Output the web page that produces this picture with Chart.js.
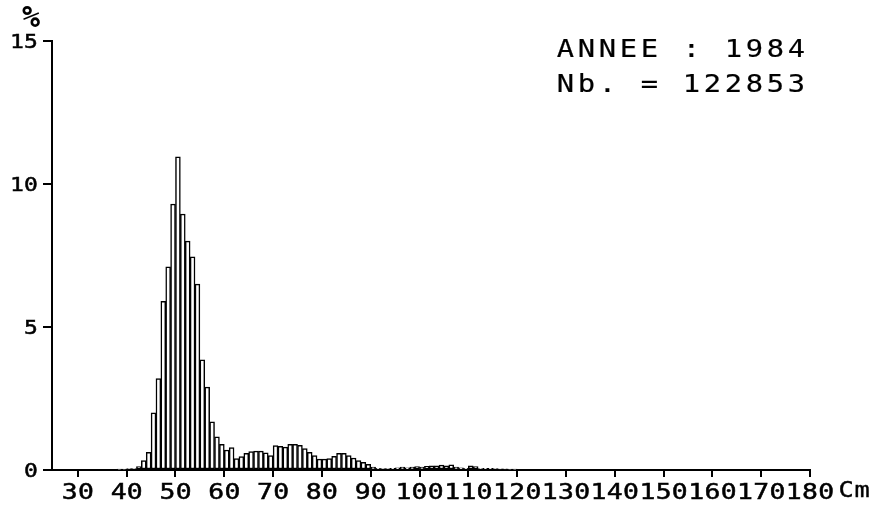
<!DOCTYPE html>
<html>
<head>
<meta charset="utf-8">
<script src="https://cdn.jsdelivr.net/npm/chart.js@4/dist/chart.umd.min.js"></script>
<style>
  body { margin: 0; background: #fff; }
  #histo { display: block; }
</style>
</head>
<body>
<canvas id="histo" width="875" height="508"></canvas>
<script>
// classes de taille (cm, borne inférieure) et pourcentage de chaque classe
const classesCm = [
  38, 39, 40, 41, 42, 43, 44, 45, 46, 47, 48, 49,
  50, 51, 52, 53, 54, 55, 56, 57, 58, 59,
  60, 61, 62, 63, 64, 65, 66, 67, 68, 69,
  70, 71, 72, 73, 74, 75, 76, 77, 78, 79,
  80, 81, 82, 83, 84, 85, 86, 87, 88, 89,
  90, 91, 92, 93, 94, 95, 96, 97, 98, 99,
  100, 101, 102, 103, 104, 105, 106, 107, 108, 109,
  110, 111, 112, 113, 114, 115, 116, 117, 118, 119
];
const pourcentages = [
  0.02, 0.03, 0.05, 0.05, 0.12, 0.33, 0.62, 2.0, 3.2, 5.9, 7.1, 9.3,
  10.95, 8.95, 8.0, 7.45, 6.5, 3.85, 2.9, 1.68, 1.16, 0.9,
  0.7, 0.78, 0.4, 0.47, 0.58, 0.64, 0.66, 0.66, 0.6, 0.5,
  0.85, 0.83, 0.8, 0.9, 0.9, 0.86, 0.75, 0.62, 0.5, 0.38,
  0.38, 0.4, 0.48, 0.58, 0.58, 0.5, 0.42, 0.33, 0.27, 0.2,
  0.1, 0.06, 0.05, 0.05, 0.06, 0.08, 0.1, 0.08, 0.1, 0.12,
  0.1, 0.13, 0.15, 0.15, 0.17, 0.15, 0.18, 0.1, 0.08, 0.06,
  0.15, 0.12, 0.05, 0.06, 0.06, 0.05, 0.04, 0.04, 0.03, 0.02
];
const ticksX = [30, 40, 50, 60, 70, 80, 90, 100, 110, 120, 130, 140, 150, 160, 170, 180];
const ticksY = [0, 5, 10, 15];
const legende = ['ANNEE : 1984', 'Nb. = 122853'];

const POLICE = '"DejaVu Sans Mono", monospace';

// texte à pas fixe, façon traceur (glyphes élargis, trait épaissi)
function ecrire(ctx, texte, x0, y, pas, larg, trait) {
  for (let i = 0; i < texte.length; i++) {
    ctx.save();
    ctx.translate(x0 + i * pas + pas / 2, y);
    ctx.scale(larg, 1);
    ctx.fillText(texte[i], 0, 0);
    if (trait) {
      ctx.lineWidth = trait;
      ctx.strokeText(texte[i], 0, 0);
    }
    ctx.restore();
  }
}

const textes = {
  id: 'textes',
  afterDraw(chart) {
    const ctx = chart.ctx;
    const sx = chart.scales.x;
    const sy = chart.scales.y;
    ctx.save();
    ctx.fillStyle = '#000';
    ctx.strokeStyle = '#000';
    ctx.textAlign = 'center';
    ctx.textBaseline = 'alphabetic';

    ctx.font = '22px ' + POLICE;
    ticksX.forEach(v => {
      const s = String(v);
      const p = 16.2;
      ecrire(ctx, s, sx.getPixelForValue(v) - s.length * p / 2, 499, p, 1.2, 0.5);
    });
    ecrire(ctx, 'Cm', 838, 497, 16, 1.15, 0.4);

    ctx.font = '20px ' + POLICE;
    ticksY.forEach(v => {
      const s = String(v);
      const p = 14;
      ecrire(ctx, s, 38 - s.length * p, sy.getPixelForValue(v) + 7, p, 1.15, 0.5);
    });

    ctx.font = 'bold 30px ' + POLICE;
    ecrire(ctx, '%', 22, 27, 18, 1.0, 0);

    ctx.font = '25px ' + POLICE;
    ecrire(ctx, legende[0], 555, 57, 21, 1.15, 0.2);
    ecrire(ctx, legende[1], 555, 92, 21, 1.15, 0.2);
    ctx.restore();
  }
};

new Chart(document.getElementById('histo'), {
  type: 'bar',
  data: {
    datasets: [{
      data: classesCm.map((c, i) => ({ x: c + 0.5, y: pourcentages[i] })),
      backgroundColor: '#fff',
      borderColor: '#000',
      borderWidth: 1.5,
      borderSkipped: false,
      barPercentage: 1,
      categoryPercentage: 1
    }]
  },
  options: {
    responsive: false,
    animation: false,
    layout: { padding: { left: 0, top: 41, right: 65, bottom: 0 } },
    plugins: { legend: { display: false }, tooltip: { enabled: false } },
    scales: {
      x: {
        type: 'linear',
        min: 24.7,
        max: 180,
        offset: false,
        afterBuildTicks: axe => { axe.ticks = ticksX.map(v => ({ value: v })); },
        afterFit: axe => { axe.height = 38; },
        ticks: { display: false },
        grid: { offset: false, drawOnChartArea: false, color: '#000', lineWidth: 2, tickLength: 7 },
        border: { color: '#000', width: 2 }
      },
      y: {
        min: 0,
        max: 15,
        afterBuildTicks: axe => { axe.ticks = ticksY.map(v => ({ value: v })); },
        afterFit: axe => { axe.width = 52; },
        ticks: { display: false },
        grid: { drawOnChartArea: false, color: '#000', lineWidth: 2, tickLength: 9 },
        border: { color: '#000', width: 2 }
      }
    }
  },
  plugins: [textes]
});
</script>
</body>
</html>
